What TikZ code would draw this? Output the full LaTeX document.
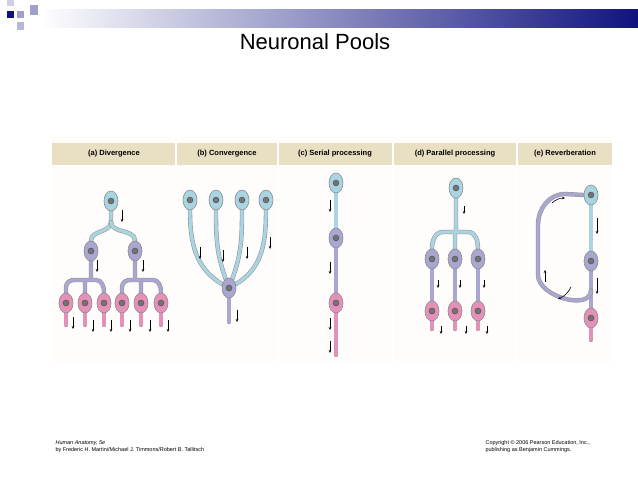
\documentclass[tikz,border=0pt]{standalone}
\usepackage{fontspec}
\setmainfont{Liberation Sans}
\usetikzlibrary{shapes.geometric,arrows.meta}
\pgfdeclarelayer{back}\pgfdeclarelayer{bg}\pgfsetlayers{back,bg,main}
\definecolor{nblue}{HTML}{A9D4E2}
\definecolor{npur}{HTML}{A9A6D2}
\definecolor{npink}{HTML}{E590B8}
\definecolor{hdr}{HTML}{E9DFC2}
\definecolor{navy}{HTML}{10137F}
\tikzset{
 cellb/.style={ellipse,draw=black!45,line width=0.6pt,minimum width=14pt,minimum height=20pt,inner sep=0pt},
 nuc/.style={circle,fill=black!55,draw=black!70,minimum size=6pt,inner sep=0pt},
 ax/.style={draw=black!40,line width=0.6pt,double=#1,double distance=3.2pt,line cap=round},
 ax/.default=npur,
 arr/.style={-{Stealth[length=3pt,width=2.5pt]},line width=0.6pt},
 hd/.style={font=\bfseries\fontsize{7.5}{8}\selectfont,anchor=center},
 foot/.style={font=\fontsize{5.5}{7}\selectfont,anchor=west,align=left}
}
\newcommand\nrn[4]{\node[cellb,fill=#3] (#4) at (#1,#2) {};\node[nuc] (#4n) at (#1,#2) {};}
\begin{document}
\begin{tikzpicture}[x=1pt,y=-1pt]
\useasboundingbox (0,0) rectangle (638,479);
\begin{pgfonlayer}{back}
\fill[white] (0,0) rectangle (638,479);
\shade[left color=white,right color=navy] (40,9) rectangle (638,27);
\fill[navy] (7,11) rectangle (14,18);
\fill[navy!40] (17,11) rectangle (24,18);
\fill[navy!40] (30,5) rectangle (38,15);
\fill[navy!30] (17,22) rectangle (24,30);
\fill[navy!20] (7,0) rectangle (14,6);
\fill[white!95!hdr] (52,137) rectangle (612,362);
\fill[hdr] (52,143) rectangle (612,165);
\foreach \x in {176,278,393,517} \draw[white,line width=1.5pt] (\x,143) -- (\x,362);
\end{pgfonlayer}
\node[font=\fontsize{22}{24}\selectfont] (title) at (315,42) {Neuronal Pools};
\node[hd] (ha) at (114,154) {(a) Divergence};
\node[hd] (hb) at (227,154) {(b) Convergence};
\node[hd] (hc) at (335,154) {(c) Serial processing};
\node[hd] (hd) at (455,154) {(d) Parallel processing};
\node[hd] (he) at (565,154) {(e) Reverberation};
% (a) Divergence
\nrn{111}{201}{nblue}{a0}
\nrn{91}{251}{npur}{a1}
\nrn{135}{251}{npur}{a2}
\foreach \x [count=\i] in {66,85,104,122,141,161} {\nrn{\x}{303}{npink}{p\i}}
\begin{pgfonlayer}{bg}
\draw[ax=nblue] (a0) -- (111,222) to[out=-90,in=90] (a1);
\draw[ax=nblue] (111,222) to[out=-90,in=90] (a2);
\draw[ax] (a1) -- (91,280) (66,292) -- (66,287) to[out=90,in=180] (74,280) -- (96,280) to[out=0,in=90] (104,292) (85,292) -- (85,280);
\draw[ax] (a2) -- (135,280) (122,292) -- (122,287) to[out=90,in=180] (130,280) -- (153,280) to[out=0,in=90] (161,292) (141,292) -- (141,280);
\foreach \i in {1,...,6} \draw[ax=npink] (p\i) -- ++(0,22);
\end{pgfonlayer}
\foreach \x/\y in {122/210,97/260,143/260,73/317,93/320,111/320,130/320,150/320,168/320}
  \draw[arr] (\x,\y) -- ++(0,12);
% (b) Convergence
\foreach \x [count=\i] in {190,216,242,266} {\nrn{\x}{200}{nblue}{b\i}}
\nrn{229}{288}{npur}{b0}
\begin{pgfonlayer}{bg}
\draw[ax=nblue] (b1) to[out=-90,in=150] (b0);
\draw[ax=nblue] (b2) to[out=-90,in=110] (b0);
\draw[ax=nblue] (b3) to[out=-90,in=70] (b0);
\draw[ax=nblue] (b4) to[out=-90,in=30] (b0);
\draw[ax] (b0) -- (229,322);
\end{pgfonlayer}
\foreach \x/\y in {200/247,223/250,247/247,270/237,237/310} \draw[arr] (\x,\y) -- ++(0,12);
% (c) Serial
\nrn{336}{183}{nblue}{c1}
\nrn{336}{238}{npur}{c2}
\nrn{336}{303}{npink}{c3}
\begin{pgfonlayer}{bg}
\draw[ax=nblue] (c1) -- (c2); \draw[ax] (c2) -- (c3); \draw[ax=npink] (c3) -- (336,355);
\end{pgfonlayer}
\foreach \x/\y in {330/200,330/262,330/318,330/341} \draw[arr] (\x,\y) -- ++(0,12);
% (d) Parallel
\nrn{456}{188}{nblue}{d0}
\foreach \x [count=\i] in {432,455,478} {\nrn{\x}{259}{npur}{dm\i}\nrn{\x}{311}{npink}{dp\i}}
\begin{pgfonlayer}{bg}
\draw[ax=nblue] (d0) -- (456,232) (432,248) to[out=90,in=180] (443,232) -- (468,232) to[out=0,in=90] (478,248) (455,232) -- (dm2);
\foreach \i in {1,2,3} {\draw[ax] (dm\i) -- (dp\i); \draw[ax=npink] (dp\i) -- ++(0,18);}
\end{pgfonlayer}
\foreach \x/\y in {464/206,438/280,460/280,484/280,441/326,466/326,487/326} \draw[arr] (\x,\y) -- ++(0,8);
% (e) Reverberation
\nrn{591}{195}{nblue}{e1}
\nrn{591}{261}{npur}{e2}
\nrn{591}{318}{npink}{e3}
\coordinate (eloop) at (591,290);
\begin{pgfonlayer}{bg}
\draw[ax=nblue] (e1) -- (e2); \draw[ax] (e2) -- (e3); \draw[ax=npink] (e3) -- (591,340);
\draw[ax] (e1.west) -- (565,194) to[out=180,in=90] (538,225) -- (538,275) to[out=-90,in=-90] (eloop);
\end{pgfonlayer}
\draw[arr] (552,203) to[bend left=20] (565,198);
\draw[arr] (571,287) to[bend left=20] (558,299);
\draw[arr] (545,282) -- ++(0,-12);
\draw[arr] (597,218) -- ++(0,16);
\draw[arr] (597,278) -- ++(0,16);
% footer
\node[foot] (f1) at (52,447) {\itshape Human Anatomy, 5e\\by Frederic H. Martini/Michael J. Timmons/Robert B. Tallitsch};
\node[foot] (f2) at (482,447) {Copyright © 2006 Pearson Education, Inc.,\\publishing as Benjamin Cummings.};
\end{tikzpicture}
\end{document}
